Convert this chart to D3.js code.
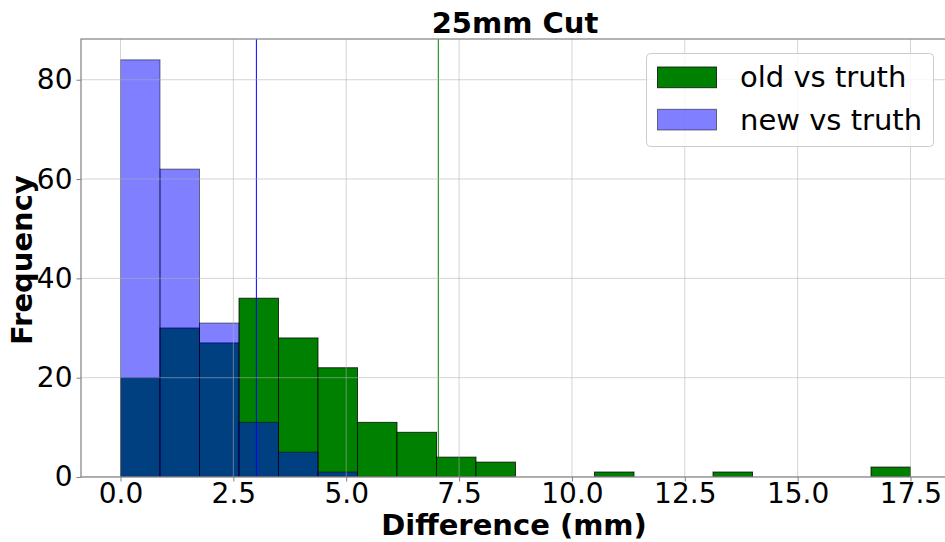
<!DOCTYPE html>
<html><head><meta charset="utf-8">
<script src="https://cdn.jsdelivr.net/npm/d3@7"></script>
<style>body{margin:0;background:#fff}svg{display:block}text{font-family:"DejaVu Sans",sans-serif}</style>
</head><body><div id="chart"></div>
<script>
const binEdges = [0,0.875,1.75,2.625,3.5,4.375,5.25,6.125,7,7.875,8.75,9.625,10.5,11.375,12.25,13.125,14,14.875,15.75,16.625,17.5];
const oldCounts = [20,30,27,36,28,22,11,9,4,3,0,0,1,0,0,1,0,0,0,2];
const newCounts = [84,62,31,11,5,1,0,0,0,0,0,0,0,0,0,0,0,0,0,0];
const seriesNames = ["old vs truth","new vs truth"];
const lineValues = [3.01, 7.04];
const lineColors = ["blue","green"];
const xTicks = [0,2.5,5,7.5,10,12.5,15,17.5];
const yTicks = [0,20,40,60,80];

const W=945,H=542;
const L=81,T=39,R=950,B=477;
const svg=d3.select("#chart").append("svg").attr("width",W).attr("height",H);
const x=d3.scaleLinear().domain([-0.875,18.375]).range([L,R]);
const y=d3.scaleLinear().domain([0,88.2]).range([B,T]);

svg.append("defs").append("clipPath").attr("id","c").append("rect").attr("x",L).attr("y",T).attr("width",R-L).attr("height",B-T);
const g=svg.append("g").attr("clip-path","url(#c)");

const bins=oldCounts.map((v,i)=>({x0:binEdges[i],x1:binEdges[i+1],old:v,nw:newCounts[i]}));
g.selectAll("rect.old").data(bins.filter(d=>d.old>0)).join("rect")
 .attr("x",d=>x(d.x0)).attr("width",d=>x(d.x1)-x(d.x0))
 .attr("y",d=>y(d.old)).attr("height",d=>y(0)-y(d.old))
 .attr("fill","#008000").attr("stroke","#000").attr("stroke-opacity",0.75).attr("stroke-width",1);

lineValues.forEach((v,i)=>{
 g.append("line").attr("x1",x(v)).attr("x2",x(v)).attr("y1",T).attr("y2",B)
  .attr("stroke",lineColors[i]).attr("stroke-width",1);
});

g.selectAll("rect.nw").data(bins.filter(d=>d.nw>0)).join("rect")
 .attr("x",d=>x(d.x0)).attr("width",d=>x(d.x1)-x(d.x0))
 .attr("y",d=>y(d.nw)).attr("height",d=>y(0)-y(d.nw))
 .attr("fill","rgba(0,0,255,0.5)").attr("stroke","rgba(0,0,0,0.5)").attr("stroke-width",1);

// grid
const grid=g.append("g");
xTicks.forEach(t=>grid.append("line").attr("x1",x(t)).attr("x2",x(t)).attr("y1",T).attr("y2",B).attr("stroke","#b0b0b0").attr("stroke-opacity",0.55).attr("stroke-width",1));
yTicks.forEach(t=>grid.append("line").attr("x1",L).attr("x2",R).attr("y1",y(t)).attr("y2",y(t)).attr("stroke","#b0b0b0").attr("stroke-opacity",0.55).attr("stroke-width",1));

// spines
svg.append("rect").attr("x",L).attr("y",T).attr("width",R-L).attr("height",B-T).attr("fill","none").attr("stroke","#808080").attr("stroke-width",1.2);

// axes
const xa=svg.append("g").attr("transform",`translate(0,${B})`)
 .call(d3.axisBottom(x).tickValues(xTicks).tickFormat(d3.format(".1f")).tickSize(4.5).tickPadding(3));
const ya=svg.append("g").attr("transform",`translate(${L},0)`)
 .call(d3.axisLeft(y).tickValues(yTicks).tickFormat(d3.format("d")).tickSize(4.5).tickPadding(4));
[xa,ya].forEach(a=>{a.select(".domain").remove();a.selectAll("line").attr("stroke","#808080");
 a.selectAll("text").attr("font-size",28).attr("fill","#000").attr("font-family","DejaVu Sans");});
xa.selectAll("text").attr("dy","0.66em");

svg.append("text").attr("x",515).attr("y",33).attr("text-anchor","middle").attr("font-size",29).attr("font-weight","bold").text("25mm Cut");
svg.append("text").attr("x",514).attr("y",535).attr("text-anchor","middle").attr("font-size",29).attr("font-weight","bold").text("Difference (mm)");
svg.append("text").attr("transform",`translate(32,260) rotate(-90)`).attr("text-anchor","middle").attr("font-size",29).attr("font-weight","bold").text("Frequency");

// legend
const lg=svg.append("g");
lg.append("rect").attr("x",646.5).attr("y",53.5).attr("width",287).attr("height",93).attr("rx",4)
 .attr("fill","rgba(255,255,255,0.8)").attr("stroke","#cccccc").attr("stroke-width",1);
const lfill=["#008000","rgba(0,0,255,0.5)"], lstroke=["rgba(0,0,0,0.75)","rgba(0,0,0,0.5)"];
seriesNames.forEach((n,i)=>{
 const yy=67+i*42.3;
 lg.append("rect").attr("x",657.5).attr("y",yy).attr("width",59).attr("height",20.7).attr("fill",lfill[i]).attr("stroke",lstroke[i]).attr("stroke-width",1);
 lg.append("text").attr("x",740).attr("y",yy+20.3).attr("font-size",29).text(n);
});
</script></body></html>
